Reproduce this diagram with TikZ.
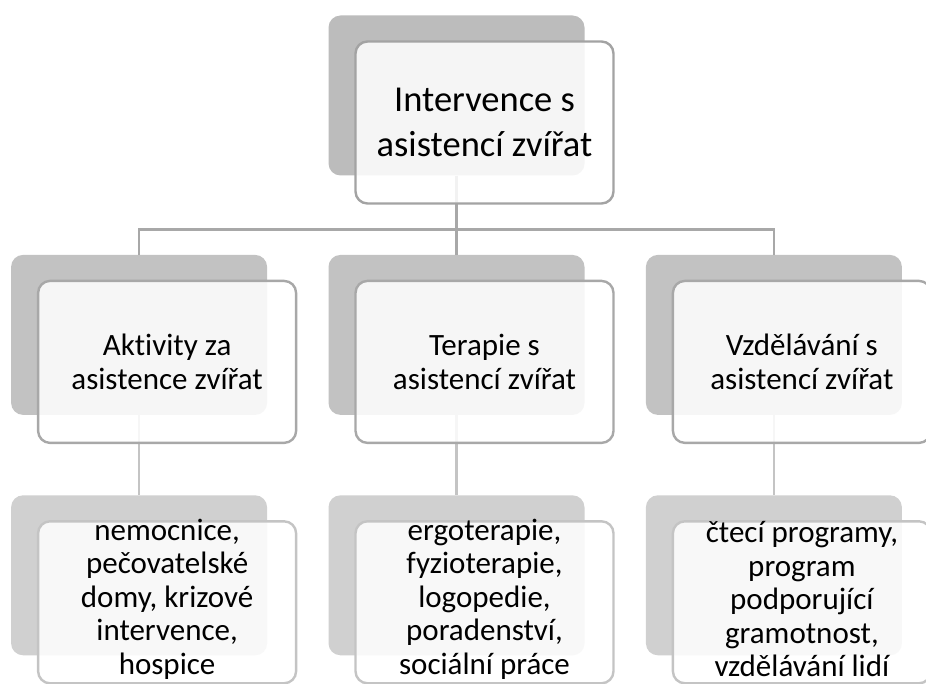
\documentclass[tikz,border=0pt]{standalone}
\usepackage{fontspec}
\setmainfont{Carlito}[Ligatures=NoCommon]
\usepackage{tikz}
\usetikzlibrary{positioning}

\definecolor{shadeA}{HTML}{BCBCBC}
\definecolor{shadeB}{HTML}{C2C2C2}
\definecolor{shadeC}{HTML}{D0D0D0}
\definecolor{rimA}{HTML}{A3A3A3}
\definecolor{rimB}{HTML}{A8A8A8}
\definecolor{rimC}{HTML}{C4C4C4}

\begin{document}
\begin{tikzpicture}[
  x=1pt, y=-1pt,
  back/.style={rounded corners=12pt, minimum width=256pt, minimum height=160pt, inner sep=0pt},
  front/.style={draw, line width=2.4pt, rounded corners=12pt, fill=white, fill opacity=.86,
    minimum width=258pt, minimum height=162pt, inner sep=0pt, xshift=28pt, yshift=-27pt},
  txt/.style={align=center, text=black, inner sep=0pt},
  conn/.style={line width=2.6pt, rimB},
  conn2/.style={line width=2.6pt, rimC},
]
\useasboundingbox (0,0) rectangle (926,684);
% shaded back plates
\node[back, fill=shadeA] (topb) at (456.5,95.5) {};
\node[back, fill=shadeB, below=79pt of topb] (terb) {};
\node[back, fill=shadeB, left=61pt of terb] (actb) {};
\node[back, fill=shadeB, right=61pt of terb] (vzdb) {};
\node[back, fill=shadeC, below=80pt of actb] (actl) {};
\node[back, fill=shadeC, below=80pt of terb] (terl) {};
\node[back, fill=shadeC, below=80pt of vzdb] (vzdl) {};
% connectors
\coordinate[below=54pt of topb.south] (fork);
\draw[conn] (topb.south) -- (fork);
\draw[conn] (fork) -| (actb.north);
\draw[conn] (fork) -- (terb.north);
\draw[conn] (fork) -| (vzdb.north);
\draw[conn2] (actb.south) -- (actl.north);
\draw[conn2] (terb.south) -- (terl.north);
\draw[conn2] (vzdb.south) -- (vzdl.north);
% front cards
\node[front, draw=rimA] (topf) at (topb) {};
\node[front, draw=rimB] (actf) at (actb) {};
\node[front, draw=rimB] (terf) at (terb) {};
\node[front, draw=rimB] (vzdf) at (vzdb) {};
\node[front, draw=rimC] (actg) at (actl) {};
\node[front, draw=rimC] (terg) at (terl) {};
\node[front, draw=rimC] (vzdg) at (vzdl) {};
% texts
\node[txt, font=\fontsize{36.5}{45}\selectfont] (toptxt) at (topf) {Intervence s\\asistencí zvířat};
\node[txt, font=\fontsize{31}{33.5}\selectfont] (acttxt) at (actf) {Aktivity za\\asistence zvířat};
\node[txt, font=\fontsize{31}{33.5}\selectfont] (tertxt) at (terf) {Terapie s\\asistencí zvířat};
\node[txt, font=\fontsize{31}{33.5}\selectfont] (vzdtxt) at (vzdf) {Vzdělávání s\\asistencí zvířat};
\node[txt, font=\fontsize{31}{33.5}\selectfont, yshift=3pt] (actlst) at (actg) {nemocnice,\\pečovatelské\\domy, krizové\\intervence,\\hospice};
\node[txt, font=\fontsize{31}{33.5}\selectfont, yshift=3pt] (terlst) at (terg) {ergoterapie,\\fyzioterapie,\\logopedie,\\poradenství,\\sociální práce};
\node[txt, font=\fontsize{31}{33.5}\selectfont, yshift=3pt] (vzdlst) at (vzdg) {čtecí programy,\\program\\podporující\\gramotnost,\\vzdělávání lidí};
\end{tikzpicture}
\end{document}
